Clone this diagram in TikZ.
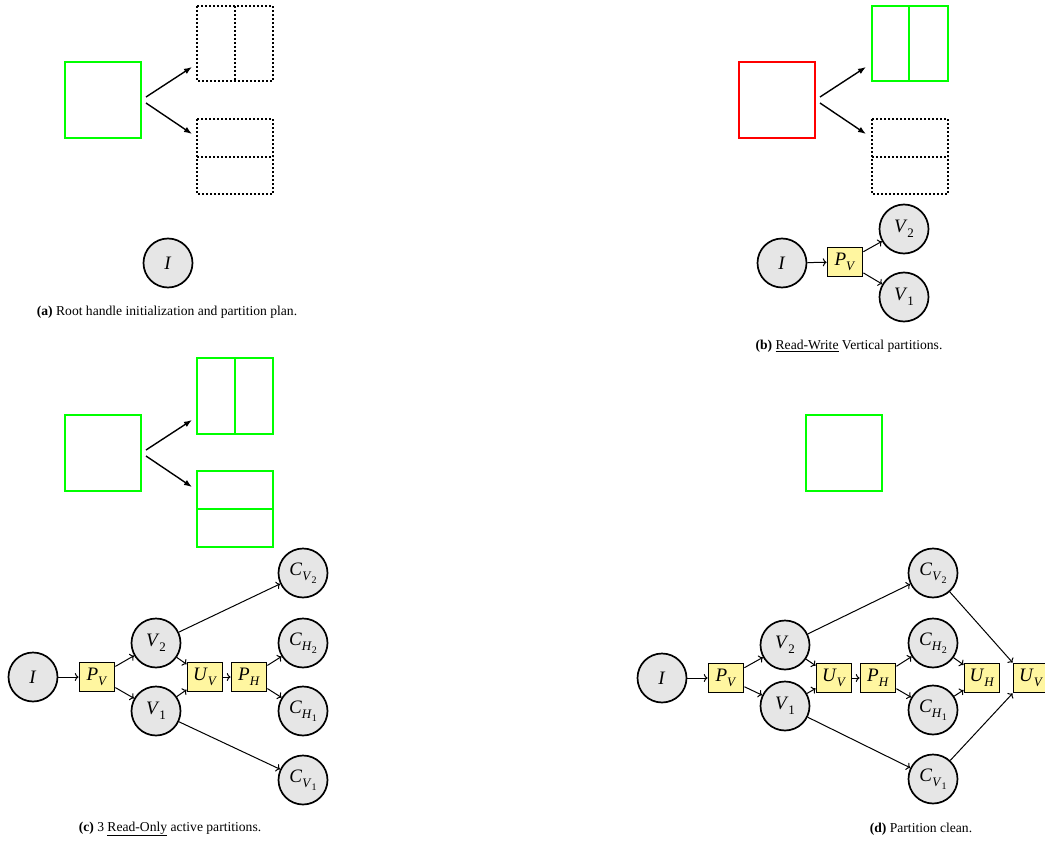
\documentclass[tikz,border=0pt]{standalone}
\usepackage{fontspec}
\setmainfont{Liberation Serif}
\usetikzlibrary{arrows.meta}
\definecolor{boxyellow}{RGB}{255,246,160}
\definecolor{circgray}{RGB}{230,230,230}
\definecolor{pgreen}{RGB}{0,255,0}
\definecolor{pred}{RGB}{255,0,0}
\newcommand\sbA[1]{\raisebox{-0.28em}{\fontsize{13}{13}\selectfont #1}}
\newcommand\sbB[1]{\raisebox{-0.22em}{\fontsize{10}{10}\selectfont #1}}
\newcommand\nfont{\fontsize{19}{21}\selectfont}
\newcommand\cfont{\fontsize{13.6}{15}\selectfont}
\tikzset{
  circ/.style={circle, draw, line width=1.7pt, fill=circgray, minimum size=49pt, inner sep=0pt, font=\nfont},
  ybox/.style={rectangle, draw, line width=1.8pt, fill=boxyellow, minimum width=35pt, minimum height=29pt, inner sep=1pt, font=\nfont},
  edge/.style={->, line width=1pt},
  planarrow/.style={-{Latex[length=8pt,width=6pt]}, line width=1.4pt},
  dotbox/.style={draw=black, line width=1.9pt, dash pattern=on 1.9pt off 2.1pt},
  greenbox/.style={draw=pgreen, line width=1.7pt},
  redbox/.style={draw=pred, line width=1.7pt},
  captext/.style={font=\cfont, inner sep=0pt, anchor=center}
}
\begin{document}
\begin{tikzpicture}[x=1pt,y=-1pt]
\useasboundingbox (0,0) rectangle (1045,843);

% ---------- (a) ----------
\draw[greenbox] (65,62) rectangle (141,138);
\draw[dotbox] (197,6) rectangle (273,81);
\draw[dotbox] (235,6) -- (235,81);
\draw[dotbox] (197,119) rectangle (273,194);
\draw[dotbox] (197,157) -- (273,157);
\coordinate (aS1) at (146,97); \coordinate (aE1) at (192,67);
\coordinate (aS2) at (146,103); \coordinate (aE2) at (192,134);
\draw[planarrow] (aS1) -- (aE1);
\draw[planarrow] (aS2) -- (aE2);
\node[circ] (aI) at (168,263) {\textit{I}};
\node[captext] (capa) at (167,312) {\textbf{(a)} Root handle initialization and partition plan.};

% ---------- (b) ----------
\draw[redbox] (739,62) rectangle (815,138);
\draw[greenbox] (872,6) rectangle (948,81);
\draw[greenbox] (909,6) -- (909,81);
\draw[dotbox] (872,119) rectangle (948,194);
\draw[dotbox] (872,157) -- (948,157);
\coordinate (bS1) at (820,97); \coordinate (bE1) at (866,67);
\coordinate (bS2) at (820,103); \coordinate (bE2) at (866,134);
\draw[planarrow] (bS1) -- (bE1);
\draw[planarrow] (bS2) -- (bE2);
\node[circ] (bI) at (782,263) {\textit{I}};
\node[ybox] (bPV) at (845,262) {\textit{P}\sbA{\textit{V}}};
\node[circ] (bV2) at (904,229) {\textit{V}\sbA{2}};
\node[circ] (bV1) at (904,297) {\textit{V}\sbA{1}};
\draw[edge] (bI) -- (bPV);
\draw[edge] (bPV) -- (bV2);
\draw[edge] (bPV) -- (bV1);
\node[captext] (capb) at (849,346) {\textbf{(b)} \underline{Read-Write} Vertical partitions.};

% ---------- (c) ----------
\draw[greenbox] (65,415) rectangle (141,491);
\draw[greenbox] (197,358) rectangle (273,434);
\draw[greenbox] (235,358) -- (235,434);
\draw[greenbox] (197,471) rectangle (273,547);
\draw[greenbox] (197,509) -- (273,509);
\coordinate (cS1) at (146,450); \coordinate (cE1) at (192,420);
\coordinate (cS2) at (146,456); \coordinate (cE2) at (192,487);
\draw[planarrow] (cS1) -- (cE1);
\draw[planarrow] (cS2) -- (cE2);
\node[circ] (cI) at (33,677) {\textit{I}};
\node[ybox] (cPV) at (97,677) {\textit{P}\sbA{\textit{V}}};
\node[circ] (cV2) at (156,643) {\textit{V}\sbA{2}};
\node[circ] (cV1) at (156,711) {\textit{V}\sbA{1}};
\node[ybox] (cUV) at (205,677) {\textit{U}\sbA{\textit{V}}};
\node[ybox] (cPH) at (249,677) {\textit{P}\sbA{\textit{H}}};
\node[circ] (cCV2) at (303,573) {\textit{C}\sbA{\textit{V}\sbB{2}}};
\node[circ] (cCH2) at (303,643) {\textit{C}\sbA{\textit{H}\sbB{2}}};
\node[circ] (cCH1) at (303,711) {\textit{C}\sbA{\textit{H}\sbB{1}}};
\node[circ] (cCV1) at (303,780) {\textit{C}\sbA{\textit{V}\sbB{1}}};
\draw[edge] (cI) -- (cPV);
\draw[edge] (cPV) -- (cV2);
\draw[edge] (cPV) -- (cV1);
\draw[edge] (cV2) -- (cUV);
\draw[edge] (cV1) -- (cUV);
\draw[edge] (cUV) -- (cPH);
\draw[edge] (cPH) -- (cCH2);
\draw[edge] (cPH) -- (cCH1);
\draw[edge] (cV2) -- (cCV2);
\draw[edge] (cV1) -- (cCV1);
\node[captext] (capc) at (170,829) {\textbf{(c)} 3 \underline{Read-Only} active partitions.};

% ---------- (d) ----------
\draw[greenbox] (806,415) rectangle (882,491);
\node[circ] (dI) at (662,678) {\textit{I}};
\node[ybox] (dPV) at (726,678) {\textit{P}\sbA{\textit{V}}};
\node[circ] (dV2) at (785,645) {\textit{V}\sbA{2}};
\node[circ] (dV1) at (785,706) {\textit{V}\sbA{1}};
\node[ybox] (dUV) at (834,678) {\textit{U}\sbA{\textit{V}}};
\node[ybox] (dPH) at (878,678) {\textit{P}\sbA{\textit{H}}};
\node[circ] (dCV2) at (933,573) {\textit{C}\sbA{\textit{V}\sbB{2}}};
\node[circ] (dCH2) at (933,643) {\textit{C}\sbA{\textit{H}\sbB{2}}};
\node[circ] (dCH1) at (933,710) {\textit{C}\sbA{\textit{H}\sbB{1}}};
\node[circ] (dCV1) at (933,779) {\textit{C}\sbA{\textit{V}\sbB{1}}};
\node[ybox] (dUH) at (982,678) {\textit{U}\sbA{\textit{H}}};
\node[ybox] (dUV2) at (1031,678) {\textit{U}\sbA{\textit{V}}};
\draw[edge] (dI) -- (dPV);
\draw[edge] (dPV) -- (dV2);
\draw[edge] (dPV) -- (dV1);
\draw[edge] (dV2) -- (dUV);
\draw[edge] (dV1) -- (dUV);
\draw[edge] (dUV) -- (dPH);
\draw[edge] (dPH) -- (dCH2);
\draw[edge] (dPH) -- (dCH1);
\draw[edge] (dV2) -- (dCV2);
\draw[edge] (dV1) -- (dCV1);
\draw[edge] (dCH2) -- (dUH);
\draw[edge] (dCH1) -- (dUH);
\draw[edge] (dCV2) -- (dUV2.north west);
\draw[edge] (dCV1) -- (dUV2.south west);
\node[captext] (capd) at (921,829) {\textbf{(d)} Partition clean.};
\end{tikzpicture}
\end{document}
